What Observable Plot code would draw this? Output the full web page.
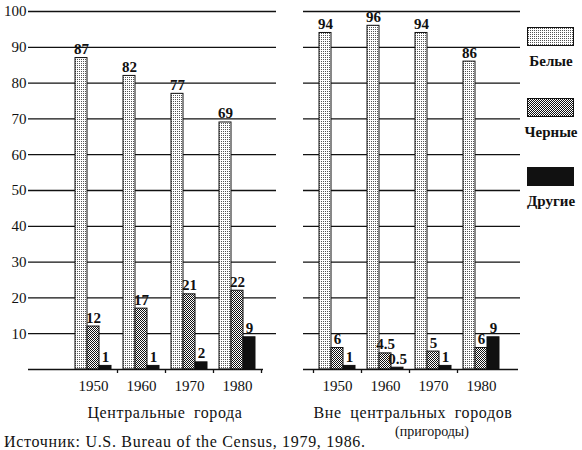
<!DOCTYPE html>
<html><head><meta charset="utf-8">
<script src="https://cdn.jsdelivr.net/npm/d3@7"></script>
<script src="https://cdn.jsdelivr.net/npm/@observablehq/plot@0.6"></script>
<style>
body{margin:0;background:#fff;}
#wrap{position:relative;width:582px;height:450px;font-family:"Liberation Serif","DejaVu Serif",serif;color:#111;overflow:hidden;}
.abs{position:absolute;white-space:nowrap;line-height:1;}
.ctr{transform:translateX(-50%);}
.leg{font-weight:bold;font-size:15px;}
.ttl{letter-spacing:0.6px;word-spacing:4px;}
.cap{letter-spacing:0.7px;}
</style></head><body>
<svg width="0" height="0" style="position:absolute">
<defs>
<pattern id="patW" width="2" height="2" patternUnits="userSpaceOnUse"><rect width="2" height="2" fill="#fff"/><rect x="1" y="1" width="1" height="1" fill="#555"/></pattern>
<pattern id="patB" width="2" height="2" patternUnits="userSpaceOnUse"><rect width="2" height="2" fill="#fff"/><rect width="1" height="1" fill="#111"/><rect x="1" y="1" width="1" height="1" fill="#111"/></pattern>
</defs></svg>
<div id="wrap"></div>
<script>
const years = ["1950", "1960", "1970", "1980"];
const seriesNames = ["Белые", "Черные", "Другие"];
const centralWhite = [87, 82, 77, 69];
const centralBlack = [12, 17, 21, 22];
const centralOther = [1, 1, 2, 9];
const suburbWhite = [94, 96, 94, 86];
const suburbBlack = [6, 4.5, 5, 6];
const suburbOther = [1, 0.5, 1, 9];
const yTicks = [10, 20, 30, 40, 50, 60, 70, 80, 90, 100];
const fills = ["url(#patW)", "url(#patB)", "#111"];

function rowsOf(w, b, o) {
  const rows = [];
  years.forEach((y, i) => {
    [w[i], b[i], o[i]].forEach((v, j) => rows.push({year: y, series: seriesNames[j], value: v, key: y + "|" + seriesNames[j]}));
  });
  return rows;
}

function makePanel({rows, gapFirst, width, marginLeft, xRange, yAxis, baseInsetRight}) {
  const domain = [];
  years.forEach(y => {
    const g = seriesNames.map(s => y + "|" + s);
    if (gapFirst) domain.push(y + "|gap", ...g); else domain.push(...g, y + "|gap");
  });
  const gapKeys = years.map(y => y + "|gap");
  const centerKeys = years.map(y => y + "|" + seriesNames[1]);
  const marks = [
    Plot.ruleY(yTicks, {stroke: "#111", strokeWidth: 1.3}),
    Plot.barY(rows, {x: "key", y: "value", fill: "series", stroke: "#111", strokeWidth: 1}),
    Plot.text(rows, {x: "key", y: "value", text: d => String(d.value), dy: -4, lineAnchor: "bottom", fontWeight: "bold", fontSize: 15, fill: "#111"}),
    Plot.ruleY([0], {stroke: "#111", strokeWidth: 1.6, insetRight: baseInsetRight}),
    Plot.axisX(gapKeys, {tickSize: 4, tickFormat: () => "", stroke: "#111", strokeWidth: 1.3, label: null}),
    Plot.axisX(centerKeys, {tickSize: 0, tickPadding: 11, tickFormat: k => k.split("|")[0], fontSize: 15, label: null})
  ];
  if (yAxis) marks.push(Plot.axisY(yTicks, {tickSize: 0, tickPadding: 2, fontSize: 15, label: null}));
  return Plot.plot({
    width, height: 400,
    marginLeft, marginRight: 2, marginTop: 11, marginBottom: 31,
    style: {fontFamily: "Liberation Serif, DejaVu Serif, serif", color: "#111", background: "transparent", overflow: "visible"},
    x: {type: "band", domain, range: xRange, padding: 0, axis: null, label: null},
    y: {domain: [0, 100], axis: null, label: null},
    color: {domain: seriesNames, range: fills},
    marks
  });
}

const wrap = document.getElementById("wrap");
function place(el, left, top) {
  const d = document.createElement("div");
  d.className = "abs";
  d.style.left = left + "px"; d.style.top = top + "px";
  d.appendChild(el);
  wrap.appendChild(d);
  return d;
}
function label(text, left, top, size, center, cls) {
  const d = document.createElement("div");
  d.className = "abs" + (center ? " ctr" : "") + (cls ? " " + cls : "");
  d.style.left = left + "px"; d.style.top = top + "px"; d.style.fontSize = size + "px";
  d.textContent = text;
  wrap.appendChild(d);
}

place(makePanel({rows: rowsOf(centralWhite, centralBlack, centralOther), gapFirst: false, width: 278, marginLeft: 28, xRange: [74, 268], yAxis: true, baseInsetRight: 13}), 0, 0);
place(makePanel({rows: rowsOf(suburbWhite, suburbBlack, suburbOther), gapFirst: true, width: 232, marginLeft: 13, xRange: [16, 210], yAxis: false, baseInsetRight: 2}), 290, 0);

// legend
const legendTops = [27, 98, 167];
const legendLabelTops = [54, 125, 194];
seriesNames.forEach((s, i) => {
  const svg = d3.create("svg").attr("width", 48).attr("height", 20);
  svg.append("rect").attr("x", 0.5).attr("y", 0.5).attr("width", 46).attr("height", 18).attr("fill", fills[i]).attr("stroke", "#111");
  place(svg.node(), 527, legendTops[i]);
  label(s, 551, legendLabelTops[i], 15, true, "leg");
});

label("Центральные города", 165, 405, 16, true, "ttl");
label("Вне центральных городов", 413, 405, 16, true, "ttl");
label("(пригороды)", 432, 425, 14, true);
label("Источник: U.S. Bureau of the Census, 1979, 1986.", 4, 434, 16, false, "cap");
</script>
</body></html>
